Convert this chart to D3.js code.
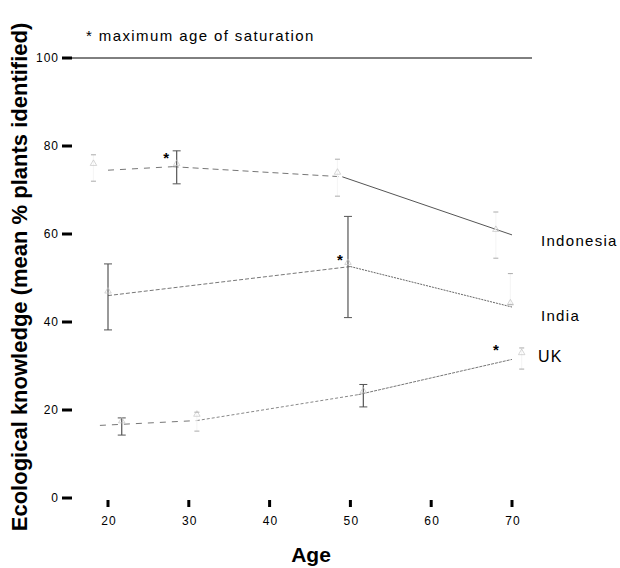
<!DOCTYPE html>
<html>
<head>
<meta charset="utf-8">
<script src="https://cdn.jsdelivr.net/npm/d3@7"></script>
<style>
  body { margin: 0; background: #fff; }
  svg { font-family: "Liberation Sans", Arial, sans-serif; }
</style>
</head>
<body>
<div id="chart"></div>
<script>
// axis ticks
const xTicks = [20, 30, 40, 50, 60, 70];
const yTicks = [0, 20, 40, 60, 80, 100];

// fitted lines (age, mean %)
const indonesiaLineAge = [20, 28, 49, 70];
const indonesiaLineVal = [74.5, 75.3, 73, 59.8];
const indiaLineAge = [20, 50, 70];
const indiaLineVal = [46, 52.6, 43.4];
const ukLineAge = [19, 31, 51, 70];
const ukLineVal = [16.5, 17.6, 23.5, 31.5];

// group means with error bars
const indonesiaPtAge = [18.2, 28.5, 48.4, 68];
const indonesiaPtMean = [76, 76, 74, 61];
const indonesiaErrLo = [72, 71.4, 68.6, 54.5];
const indonesiaErrHi = [78, 78.9, 77, 65];

const indiaPtAge = [20, 49.7, 69.8];
const indiaPtMean = [47, 53.5, 44.3];
const indiaErrLo = [38.2, 41, 44];
const indiaErrHi = [53.2, 64, 51];

const ukPtAge = [21.7, 31, 51.6, 71.2];
const ukPtMean = [17.5, 19, 24.3, 33];
const ukErrLo = [14.3, 15.2, 20.7, 29.3];
const ukErrHi = [18.2, 19.5, 25.8, 34.1];

// saturation markers
const starAge = [27.2, 48.7, 68];
const starVal = [78, 54.8, 34.3];

const seriesNames = ['Indonesia', 'India', 'UK'];
const labelVal = [58.4, 41.3, 32];

const width = 620, height = 568;
const svg = d3.select('#chart').append('svg')
  .attr('width', width)
  .attr('height', height);

const x = d3.scaleLinear().domain([20, 70]).range([108, 512]);
const y = d3.scaleLinear().domain([0, 100]).range([498, 58]);

// y ticks: short thick dashes, no axis line
const yAxis = svg.append('g');
yAxis.selectAll('rect').data(yTicks).enter().append('rect')
  .attr('x', 62).attr('y', d => y(d) - 1.5)
  .attr('width', 10).attr('height', 3)
  .attr('fill', '#000');
yAxis.selectAll('text').data(yTicks).enter().append('text')
  .attr('x', 59).attr('y', d => y(d) + 4)
  .attr('text-anchor', 'end')
  .attr('font-size', 12).attr('letter-spacing', 1)
  .text(d => d);

// x ticks: short thick vertical marks
const xAxis = svg.append('g');
xAxis.selectAll('rect').data(xTicks).enter().append('rect')
  .attr('x', d => x(d) - 1.5).attr('y', 500)
  .attr('width', 3).attr('height', 7)
  .attr('fill', '#000');
xAxis.selectAll('text').data(xTicks).enter().append('text')
  .attr('x', d => x(d) + 1).attr('y', 525)
  .attr('text-anchor', 'middle')
  .attr('font-size', 12).attr('letter-spacing', 1.2)
  .text(d => d);

// 100% reference line
svg.append('line')
  .attr('x1', 72).attr('x2', 532)
  .attr('y1', y(100)).attr('y2', y(100))
  .attr('stroke', '#000').attr('stroke-width', 1);

svg.append('text')
  .attr('x', 86).attr('y', 41)
  .attr('font-size', 15).attr('letter-spacing', 1.4)
  .text('* maximum age of saturation');

// lines, drawn segment by segment with their dash style
const lines = [
  {age: indonesiaLineAge, val: indonesiaLineVal, dash: ['6,6', '6,4', null], col: ['#777', '#777', '#555']},
  {age: indiaLineAge, val: indiaLineVal, dash: ['4,2', '2,1'], col: ['#777', '#666']},
  {age: ukLineAge, val: ukLineVal, dash: ['6,6', '3,2', '3,1'], col: ['#777', '#888', '#777']}
];
lines.forEach(l => {
  d3.pairs(d3.range(l.age.length)).forEach(([i, j], k) => {
    svg.append('line')
      .attr('x1', x(l.age[i])).attr('y1', y(l.val[i]))
      .attr('x2', x(l.age[j])).attr('y2', y(l.val[j]))
      .attr('stroke', l.col[k]).attr('stroke-width', 1)
      .attr('stroke-dasharray', l.dash[k]);
  });
});

// error bars and means; strong = fully drawn bar, others barely visible
const groups = [
  {age: indonesiaPtAge, mean: indonesiaPtMean, lo: indonesiaErrLo, hi: indonesiaErrHi, strong: [false, true, false, false]},
  {age: indiaPtAge, mean: indiaPtMean, lo: indiaErrLo, hi: indiaErrHi, strong: [true, true, false]},
  {age: ukPtAge, mean: ukPtMean, lo: ukErrLo, hi: ukErrHi, strong: [true, false, true, false]}
];
const tri = d3.symbol().type(d3.symbolTriangle).size(18);
groups.forEach(g => {
  g.age.forEach((a, i) => {
    const cx = x(a);
    const strong = g.strong[i];
    svg.append('line')
      .attr('x1', cx).attr('x2', cx)
      .attr('y1', y(g.lo[i])).attr('y2', y(g.hi[i]))
      .attr('stroke', strong ? '#555' : '#f6f6f6').attr('stroke-width', 1.2);
    [g.lo[i], g.hi[i]].forEach(v => {
      svg.append('line')
        .attr('x1', cx - (strong ? 4 : 2.5)).attr('x2', cx + (strong ? 4 : 2.5))
        .attr('y1', y(v)).attr('y2', y(v))
        .attr('stroke', strong ? '#555' : '#aaa').attr('stroke-width', 1);
    });
    svg.append('path')
      .attr('d', tri)
      .attr('transform', `translate(${cx},${y(g.mean[i])})`)
      .attr('fill', 'none').attr('stroke', '#c4c4c4').attr('stroke-width', 0.7);
  });
});

// stars
svg.selectAll('.star').data(starAge).enter().append('text')
  .attr('class', 'star')
  .attr('x', (d, i) => x(d)).attr('y', (d, i) => y(starVal[i]) + 8)
  .attr('text-anchor', 'middle')
  .attr('font-size', 15).attr('font-weight', 'bold')
  .text('*');

// series labels
svg.selectAll('.lab').data(seriesNames).enter().append('text')
  .attr('class', 'lab')
  .attr('x', (d, i) => d === 'UK' ? 538 : 541)
  .attr('y', (d, i) => y(labelVal[i]) + 5)
  .attr('font-size', d => d === 'UK' ? 16 : 15).attr('letter-spacing', 1.3)
  .text(d => d);

// axis titles
svg.append('text')
  .attr('transform', 'translate(27,277) rotate(-90)')
  .attr('text-anchor', 'middle')
  .attr('font-size', 22).attr('font-weight', 'bold')
  .text('Ecological knowledge (mean % plants identified)');

svg.append('text')
  .attr('x', 311).attr('y', 562)
  .attr('text-anchor', 'middle')
  .attr('font-size', 21).attr('font-weight', 'bold')
  .text('Age');
</script>
</body>
</html>
